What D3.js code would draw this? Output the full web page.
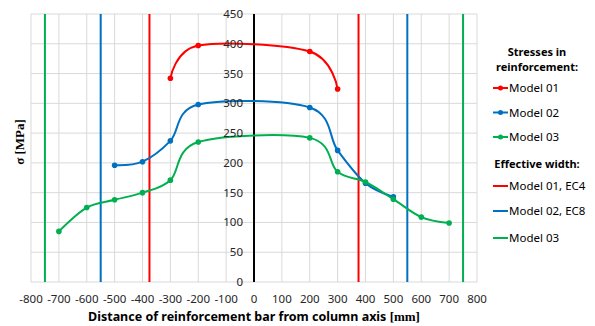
<!DOCTYPE html>
<html>
<head>
<meta charset="utf-8">
<script src="https://cdn.jsdelivr.net/npm/d3@7"></script>
<style>
  body { margin: 0; background: #fff; }
  svg { display: block; font-family: "Noto Sans", "Open Sans", sans-serif; }
  .grid line { stroke: #d9d9d9; stroke-width: 1; }
  .tick-label { font-size: 11.5px; fill: #262626; }
  .legend-text { font-size: 11.5px; fill: #000; }
  .legend-head { font-size: 11px; font-weight: bold; fill: #000; }
</style>
</head>
<body>
<div id="chart"></div>
<script>
// tick values
const xTicks = [-800, -700, -600, -500, -400, -300, -200, -100, 0, 100, 200, 300, 400, 500, 600, 700, 800];
const yTicks = [0, 50, 100, 150, 200, 250, 300, 350, 400, 450];

// stresses in reinforcement
const model01X = [-300, -200, 200, 300];
const model01Y = [342, 397, 387, 324];
const model02X = [-500, -400, -300, -200, 200, 300, 400, 500];
const model02Y = [196, 202, 237, 298, 293, 221, 166, 143];
const model03X = [-700, -600, -500, -400, -300, -200, 200, 300, 400, 500, 600, 700];
const model03Y = [85, 125, 138, 150, 171, 235, 242, 185, 168, 139, 109, 99];

// effective width (half widths, drawn at +/-)
const widthNames = ['Model 01, EC4', 'Model 02, EC8', 'Model 03'];
const widthValues = [375, 550, 750];

const seriesNames = ['Model 01', 'Model 02', 'Model 03'];
const colors = ['#ff0000', '#0070c0', '#00b050'];

const W = 595, H = 326;
const margin = { top: 14, right: 118, bottom: 44, left: 31 };
const plotW = W - margin.left - margin.right;
const plotH = H - margin.top - margin.bottom;

const svg = d3.select('#chart').append('svg')
    .attr('width', W)
    .attr('height', H);

const g = svg.append('g')
    .attr('transform', 'translate(' + margin.left + ',' + margin.top + ')');

const x = d3.scaleLinear().domain([-800, 800]).range([0, plotW]);
const y = d3.scaleLinear().domain([0, 450]).range([plotH, 0]);

// gridlines
const grid = g.append('g').attr('class', 'grid');
grid.selectAll('.gx').data(xTicks).enter().append('line')
    .attr('x1', d => x(d)).attr('x2', d => x(d))
    .attr('y1', 0).attr('y2', plotH);
grid.selectAll('.gy').data(yTicks).enter().append('line')
    .attr('x1', 0).attr('x2', plotW)
    .attr('y1', d => y(d)).attr('y2', d => y(d));

// effective width lines
widthValues.forEach((w, i) => {
    [-w, w].forEach(v => {
        g.append('line')
            .attr('x1', x(v)).attr('x2', x(v))
            .attr('y1', 0).attr('y2', plotH)
            .attr('stroke', colors[i])
            .attr('stroke-width', 2);
    });
});

// y axis at x = 0
g.append('line')
    .attr('x1', x(0)).attr('x2', x(0))
    .attr('y1', 0).attr('y2', plotH)
    .attr('stroke', '#000')
    .attr('stroke-width', 2);

// stress curves
const line = d3.line()
    .curve(d3.curveCardinal.tension(0))
    .x(d => x(d[0]))
    .y(d => y(d[1]));

const series = [
    d3.zip(model01X, model01Y),
    d3.zip(model02X, model02Y),
    d3.zip(model03X, model03Y),
];

series.forEach((pts, i) => {
    g.append('path')
        .datum(pts)
        .attr('fill', 'none')
        .attr('stroke', colors[i])
        .attr('stroke-width', 2)
        .attr('d', line);
    g.selectAll('.m' + i).data(pts).enter().append('circle')
        .attr('cx', d => x(d[0]))
        .attr('cy', d => y(d[1]))
        .attr('r', 2.8)
        .attr('fill', colors[i]);
});

// tick labels
g.selectAll('.xl').data(xTicks).enter().append('text')
    .attr('class', 'tick-label')
    .attr('x', d => x(d))
    .attr('y', plotH + 21)
    .attr('text-anchor', 'middle')
    .text(d => d);

g.selectAll('.yl').data(yTicks).enter().append('text')
    .attr('class', 'tick-label')
    .attr('x', x(0) - 11)
    .attr('y', d => y(d))
    .attr('dy', '0.35em')
    .attr('text-anchor', 'end')
    .text(d => d);

// axis titles
const xTitle = svg.append('text')
    .attr('x', margin.left + x(0))
    .attr('y', 321)
    .attr('text-anchor', 'middle')
    .attr('font-size', '12.5px')
    .attr('font-weight', 'bold')
    .attr('fill', '#000');
xTitle.append('tspan').text('Distance of reinforcement bar from column axis ');
xTitle.append('tspan')
    .attr('font-family', '"Liberation Serif", serif')
    .attr('font-size', '13px')
    .text('[mm]');

svg.append('text')
    .attr('transform', 'translate(24,142) rotate(-90)')
    .attr('text-anchor', 'middle')
    .attr('font-family', '"Liberation Serif", serif')
    .attr('font-weight', 'bold')
    .attr('font-size', '13px')
    .attr('fill', '#000')
    .text('σ [MPa]');

// legend
const lg = svg.append('g');
const lgCenter = 537;
lg.append('text').attr('class', 'legend-head')
    .attr('x', lgCenter).attr('y', 56).attr('text-anchor', 'middle')
    .text('Stresses in');
lg.append('text').attr('class', 'legend-head')
    .attr('x', lgCenter).attr('y', 71).attr('text-anchor', 'middle')
    .text('reinforcement:');

const lgY1 = [88, 112.5, 137];
seriesNames.forEach((name, i) => {
    lg.append('line')
        .attr('x1', 493).attr('x2', 508)
        .attr('y1', lgY1[i]).attr('y2', lgY1[i])
        .attr('stroke', colors[i]).attr('stroke-width', 2);
    lg.append('circle')
        .attr('cx', 500.5).attr('cy', lgY1[i]).attr('r', 2.5)
        .attr('fill', colors[i]);
    lg.append('text').attr('class', 'legend-text')
        .attr('x', 509).attr('y', lgY1[i]).attr('dy', '0.35em')
        .text(name);
});

lg.append('text').attr('class', 'legend-head')
    .attr('x', lgCenter).attr('y', 168).attr('text-anchor', 'middle')
    .text('Effective width:');

const lgY2 = [186, 211, 238];
widthNames.forEach((name, i) => {
    lg.append('line')
        .attr('x1', 493).attr('x2', 508)
        .attr('y1', lgY2[i]).attr('y2', lgY2[i])
        .attr('stroke', colors[i]).attr('stroke-width', 2);
    lg.append('text').attr('class', 'legend-text')
        .attr('x', 509).attr('y', lgY2[i]).attr('dy', '0.35em')
        .text(name);
});
</script>
</body>
</html>
